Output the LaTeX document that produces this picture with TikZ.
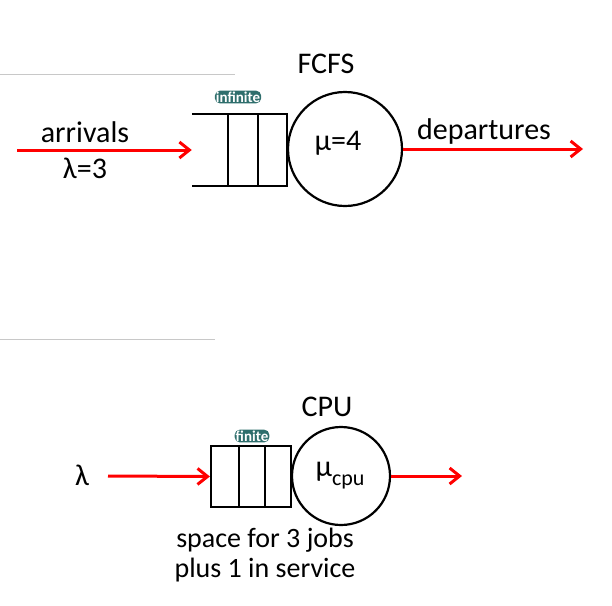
\documentclass[tikz,border=0pt]{standalone}
\usepackage{fontspec}
\setmainfont{Carlito}
\usetikzlibrary{arrows.meta,positioning,calc}
\definecolor{tagteal}{RGB}{46,110,108}
\definecolor{rulegray}{RGB}{200,200,200}

\begin{document}
\begin{tikzpicture}
         [x=1pt,y=-1pt,
          flow/.style={draw=red,line width=3pt,-{Straight Barb[length=10pt,width=16pt]}},
          wire/.style={line width=2.2pt},
          server/.style={circle,draw,line width=2.2pt,minimum size=#1,inner sep=0pt},
          qbox/.style={inner sep=0pt},
          tag/.style={fill=tagteal,text=white,font=\bfseries\fontsize{15}{15}\selectfont,
                      rounded corners=5pt,inner sep=1pt},
          lbl/.style={font=\fontsize{30}{33}\selectfont}]
         \useasboundingbox (0,0) rectangle (612,605);

         % top: infinite queue
         \draw[rulegray,line width=1pt] (0,74) -- (235,74);
         \node (q1) [qbox,minimum width=95pt,minimum height=72pt] at (239.5,150) {};
         \node (s1) [server=114pt] at (345,149) {};
         \node (mu1) [lbl] at (338,143) {μ=4};
         \node (fcfs) [lbl] at (326,64) {FCFS};
         \node (inf) [tag] at (238,97) {infinite};
         \node (arr) [lbl] at (85,132) {arrivals};
         \node (lam1) [lbl] at (85,168) {λ=3};
         \node (dep) [lbl] at (484,131) {departures};
         \coordinate (src1) at (17,150);
         \coordinate (sink1) at (583,149);

         \draw[wire] (q1.north west) -- (q1.north east) -- (q1.south east) -- (q1.south west);
         \draw[wire] ($(q1.north west)+(36,0)$) -- ($(q1.south west)+(36,0)$);
         \draw[wire] ($(q1.north west)+(66,0)$) -- ($(q1.south west)+(66,0)$);
         \draw[flow] (src1) -- (q1.west);
         \draw[flow] (s1.east) -- (sink1);

         % bottom: finite queue
         \draw[rulegray,line width=1pt] (0,339) -- (215,339);
         \node (q2) [qbox,draw,line width=2.2pt,minimum width=80pt,minimum height=61pt] at (251,476.5) {};
         \node (s2) [server=98pt] at (341,476) {};
         \node (mu2) [lbl] at (340,476)
               {μ\raisebox{-0.3em}{\fontsize{22}{22}\selectfont cpu}};
         \node (cpu) [lbl] at (327,407) {CPU};
         \node (fin) [tag] at (252,436) {finite};
         \node (lam2) [lbl] at (82,475) {λ};
         \node (note) [align=center,font=\fontsize{28}{30}\selectfont] at (265,555)
               {space for 3 jobs\\plus 1 in service};
         \coordinate (src2) at (108,476);
         \coordinate (sink2) at (462,476);

         \draw[wire] ($(q2.north west)+(29,0)$) -- ($(q2.south west)+(29,0)$);
         \draw[wire] ($(q2.north west)+(55,0)$) -- ($(q2.south west)+(55,0)$);
         \draw[flow] (src2) -- (q2.west);
         \draw[flow] (s2.east) -- (sink2);
      \end{tikzpicture}
\end{document}
